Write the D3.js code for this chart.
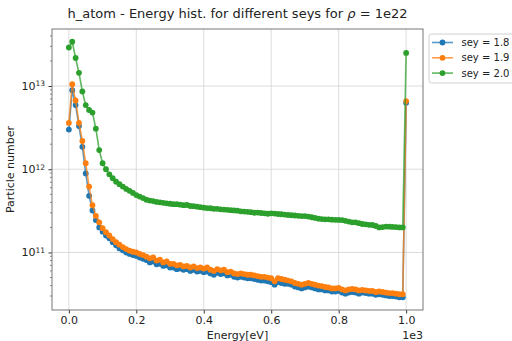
<!DOCTYPE html>
<html>
<head>
<meta charset="utf-8">
<script src="https://cdn.jsdelivr.net/npm/d3@7"></script>
<style>
  body { margin: 0; background: #fff; }
  text { font-family: "DejaVu Sans", sans-serif; fill: #222; }
</style>
</head>
<body>
<div id="chart"></div>
<script>
// energy bins (in units of 1e3 eV), one every 10 eV
const energies = d3.range(0, 101).map(i => i / 100);

const sey18 = [
  3.0e12, 8.9e12, 5.9e12, 3.3e12, 1.86e12, 8.9e11, 4.8e11, 3.2e11, 2.45e11, 2.0e11,
  1.78e11, 1.6e11, 1.48e11, 1.33e11, 1.22e11, 1.12e11, 1.06e11, 1.0e11, 9.6e10, 9.3e10,
  9.1e10, 8.7e10, 8.4e10, 8.1e10, 7.6e10, 7.8e10, 7.2e10, 7.3e10, 6.9e10, 7.0e10,
  6.6e10, 6.6e10, 6.3e10, 6.4e10, 6.2e10, 6.3e10, 6.0e10, 6.2e10, 5.9e10, 6.0e10,
  5.8e10, 5.9e10, 5.6e10, 5.4e10, 5.7e10, 5.5e10, 5.6e10, 5.3e10, 5.4e10, 5.1e10,
  5.0e10, 5.1e10, 5.0e10, 4.9e10, 4.9e10, 4.8e10, 4.7e10, 4.6e10, 4.6e10, 4.5e10,
  4.4e10, 4.1e10, 4.4e10, 4.3e10, 4.2e10, 4.2e10, 4.1e10, 3.9e10, 3.8e10, 3.7e10,
  3.8e10, 3.9e10, 3.8e10, 3.7e10, 3.6e10, 3.6e10, 3.5e10, 3.5e10, 3.4e10, 3.4e10,
  3.45e10, 3.3e10, 3.2e10, 3.3e10, 3.35e10, 3.3e10, 3.2e10, 3.3e10, 3.25e10, 3.2e10,
  3.2e10, 3.1e10, 3.15e10, 3.1e10, 3.05e10, 3.0e10, 3.0e10, 2.95e10, 2.9e10, 2.9e10,
  6.3e12
];

const sey19 = [
  3.6e12, 1.05e13, 6.7e12, 3.6e12, 2.19e12, 1.18e12, 6.2e11, 3.7e11, 2.75e11, 2.3e11,
  1.96e11, 1.75e11, 1.6e11, 1.45e11, 1.33e11, 1.24e11, 1.16e11, 1.1e11, 1.05e11, 1.02e11,
  1.0e11, 9.6e10, 9.3e10, 8.9e10, 8.5e10, 8.7e10, 8.0e10, 8.2e10, 7.6e10, 7.8e10,
  7.3e10, 7.3e10, 7.0e10, 7.1e10, 6.8e10, 6.9e10, 6.6e10, 6.8e10, 6.5e10, 6.6e10,
  6.4e10, 6.6e10, 6.2e10, 6.0e10, 6.3e10, 6.1e10, 6.2e10, 5.8e10, 5.9e10, 5.6e10,
  5.5e10, 5.6e10, 5.5e10, 5.4e10, 5.4e10, 5.3e10, 5.2e10, 5.1e10, 5.1e10, 5.0e10,
  4.9e10, 4.5e10, 4.9e10, 4.8e10, 4.7e10, 4.6e10, 4.5e10, 4.3e10, 4.2e10, 4.1e10,
  4.2e10, 4.3e10, 4.2e10, 4.1e10, 4.0e10, 3.95e10, 3.85e10, 3.8e10, 3.7e10, 3.7e10,
  3.75e10, 3.6e10, 3.5e10, 3.6e10, 3.65e10, 3.6e10, 3.5e10, 3.55e10, 3.5e10, 3.45e10,
  3.45e10, 3.35e10, 3.4e10, 3.35e10, 3.3e10, 3.25e10, 3.25e10, 3.2e10, 3.15e10, 3.15e10,
  6.6e12
];

const sey20 = [
  2.9e13, 3.4e13, 2.17e13, 1.44e13, 8.6e12, 5.9e12, 5.15e12, 4.8e12, 3.07e12, 1.7e12,
  1.18e12, 1.0e12, 8.7e11, 7.8e11, 7.1e11, 6.6e11, 6.2e11, 5.8e11, 5.5e11, 5.2e11,
  4.9e11, 4.7e11, 4.5e11, 4.3e11, 4.2e11, 4.15e11, 4.05e11, 4.0e11, 3.95e11, 3.9e11,
  3.85e11, 3.8e11, 3.8e11, 3.75e11, 3.7e11, 3.72e11, 3.62e11, 3.6e11, 3.55e11, 3.5e11,
  3.45e11, 3.42e11, 3.4e11, 3.35e11, 3.35e11, 3.3e11, 3.28e11, 3.25e11, 3.22e11, 3.2e11,
  3.18e11, 3.12e11, 3.1e11, 3.08e11, 3.05e11, 3.0e11, 3.02e11, 2.98e11, 2.95e11, 2.92e11,
  2.95e11, 2.93e11, 2.9e11, 2.88e11, 2.85e11, 2.82e11, 2.8e11, 2.78e11, 2.76e11, 2.74e11,
  2.74e11, 2.7e11, 2.65e11, 2.6e11, 2.55e11, 2.52e11, 2.5e11, 2.5e11, 2.48e11, 2.47e11,
  2.46e11, 2.45e11, 2.4e11, 2.35e11, 2.3e11, 2.3e11, 2.25e11, 2.2e11, 2.18e11, 2.15e11,
  2.14e11, 2.08e11, 2.0e11, 2.02e11, 2.05e11, 2.04e11, 2.03e11, 2.02e11, 2.0e11, 2.0e11,
  2.5e13
];

const seriesNames = ["sey = 1.8", "sey = 1.9", "sey = 2.0"];
const seriesColors = ["#1f77b4", "#ff7f0e", "#2ca02c"];
const xTicks = [0, 0.2, 0.4, 0.6, 0.8, 1.0];
const yTicks = [1e11, 1e12, 1e13];

const series = [sey18, sey19, sey20].map((values, i) => ({
  name: seriesNames[i],
  color: seriesColors[i],
  values: values
}));

const width = 512, height = 341;
const margins = { top: 29, bottom: 31, left: 52, right: 89 };

const svg = d3.select("#chart")
  .append("svg")
  .attr("width", width)
  .attr("height", height);

// matplotlib-like 5% padding
const xScale = d3.scaleLinear()
  .domain([-0.05, 1.05])
  .range([margins.left, width - margins.right]);

const allVals = series.flatMap(s => s.values);
const lmin = Math.log10(d3.min(allVals)), lmax = Math.log10(d3.max(allVals));
const pad = (lmax - lmin) * 0.05;
const yScale = d3.scaleLog()
  .domain([Math.pow(10, lmin - pad), Math.pow(10, lmax + pad)])
  .range([height - margins.bottom, margins.top]);

const x0 = margins.left, x1 = width - margins.right;
const y0 = height - margins.bottom, y1 = margins.top;

// grid
const grid = svg.append("g").attr("stroke", "#d3d3d3").attr("stroke-width", 0.8);
grid.selectAll("line.gx").data(xTicks).join("line")
  .attr("x1", d => xScale(d)).attr("x2", d => xScale(d))
  .attr("y1", y0).attr("y2", y1);
grid.selectAll("line.gy").data(yTicks).join("line")
  .attr("y1", d => yScale(d)).attr("y2", d => yScale(d))
  .attr("x1", x0).attr("x2", x1);

// x axis
const xAxis = d3.axisBottom(xScale)
  .tickValues(xTicks)
  .tickFormat(d3.format(".1f"))
  .tickSize(3.5)
  .tickPadding(3);

svg.append("g")
  .attr("class", "axis x-axis")
  .attr("transform", `translate(0,${y0})`)
  .call(xAxis)
  .call(g => g.select(".domain").remove())
  .call(g => g.selectAll("line").attr("stroke", "#333"))
  .call(g => g.selectAll("text").attr("font-size", 11).attr("fill", "#222"));

// y axis, log with minor ticks
const minorTicks = [];
[1e10, 1e11, 1e12, 1e13].forEach(dec => {
  for (let k = 2; k <= 9; k++) {
    const v = dec * k;
    if (v >= yScale.domain()[0] && v <= yScale.domain()[1]) minorTicks.push(v);
  }
});

const yAxis = d3.axisLeft(yScale)
  .tickValues(yTicks)
  .tickFormat(() => "")
  .tickSize(3.5);

const yg = svg.append("g")
  .attr("class", "axis y-axis")
  .attr("transform", `translate(${x0},0)`)
  .call(yAxis)
  .call(g => g.select(".domain").remove())
  .call(g => g.selectAll("line").attr("stroke", "#333"));

yg.selectAll("line.minor").data(minorTicks).join("line")
  .attr("class", "minor")
  .attr("x1", -2).attr("x2", 0)
  .attr("y1", d => yScale(d)).attr("y2", d => yScale(d))
  .attr("stroke", "#333").attr("stroke-width", 0.6);

const ylab = yg.selectAll("text.lab").data(yTicks).join("text")
  .attr("class", "lab")
  .attr("x", -7)
  .attr("y", d => yScale(d))
  .attr("dy", "0.35em")
  .attr("text-anchor", "end")
  .attr("font-size", 11);
ylab.append("tspan").text("10");
ylab.append("tspan")
  .attr("dy", "-0.45em")
  .attr("font-size", 7.5)
  .text(d => Math.round(Math.log10(d)));

// lines + markers
const line = d3.line()
  .x((d, i) => xScale(energies[i]))
  .y(d => yScale(d));

const plots = svg.append("g")
  .selectAll("g")
  .data(series)
  .join("g");

plots.append("path")
  .attr("fill", "none")
  .attr("stroke", d => d.color)
  .attr("stroke-width", 1.6)
  .attr("stroke-opacity", 0.75)
  .attr("d", d => line(d.values));

plots.selectAll("circle")
  .data(d => d.values.map(v => ({ v, color: d.color })))
  .join("circle")
  .attr("cx", (d, i) => xScale(energies[i]))
  .attr("cy", d => yScale(d.v))
  .attr("r", 2.9)
  .attr("fill", d => d.color);

// frame
svg.append("rect")
  .attr("x", x0).attr("y", y1)
  .attr("width", x1 - x0).attr("height", y0 - y1)
  .attr("fill", "none")
  .attr("stroke", "#777")
  .attr("stroke-width", 1);

// labels
svg.append("text")
  .attr("x", (x0 + x1) / 2)
  .attr("y", y0 + 29)
  .attr("text-anchor", "middle")
  .attr("font-size", 11)
  .text("Energy[eV]");

svg.append("text")
  .attr("x", x1)
  .attr("y", y0 + 29)
  .attr("text-anchor", "end")
  .attr("font-size", 11)
  .text("1e3");

svg.append("text")
  .attr("transform", `translate(14,${(y0 + y1) / 2}) rotate(-90)`)
  .attr("text-anchor", "middle")
  .attr("font-size", 11)
  .text("Particle number");

const title = svg.append("text")
  .attr("x", (x0 + x1) / 2)
  .attr("y", 18)
  .attr("text-anchor", "middle")
  .attr("font-size", 13);
title.append("tspan").text("h_atom - Energy hist. for different seys for ");
title.append("tspan").attr("font-style", "italic").text("ρ");
title.append("tspan").text(" = 1e22");

// legend
const legend = svg.append("g").attr("transform", `translate(429,34)`);
legend.append("rect")
  .attr("width", 90).attr("height", 49)
  .attr("rx", 2.5)
  .attr("fill", "#fff")
  .attr("stroke", "#d0d0d0");

const items = legend.selectAll("g.item")
  .data(series)
  .join("g")
  .attr("class", "item")
  .attr("transform", (d, i) => `translate(0,${8.5 + i * 15.3})`);

items.append("line")
  .attr("x1", 3).attr("x2", 24)
  .attr("stroke", d => d.color)
  .attr("stroke-width", 1.6)
  .attr("stroke-opacity", 0.75);
items.append("circle")
  .attr("cx", 13.5).attr("r", 2.9)
  .attr("fill", d => d.color);
items.append("text")
  .attr("x", 32.5)
  .attr("dy", "0.35em")
  .attr("font-size", 10)
  .text(d => d.name);
</script>
</body>
</html>
